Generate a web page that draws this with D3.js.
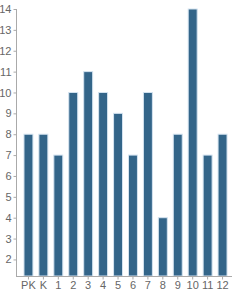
<!DOCTYPE html>
<html>
<head>
<meta charset="utf-8">
<script src="https://cdn.jsdelivr.net/npm/d3@7"></script>
<style>
  body { margin: 0; background: #fff; }
  .axis text { font-family: "Liberation Sans", Arial, sans-serif; font-size: 11px; fill: #666; }
  .axis path, .axis line { stroke: #aaa; }
</style>
</head>
<body>
<div id="chart"></div>
<script>
// grades and number of students per grade
var grades = ["PK", "K", "1", "2", "3", "4", "5", "6", "7", "8", "9", "10", "11", "12"];
var counts = [8, 8, 7, 10, 11, 10, 9, 7, 10, 4, 8, 14, 7, 8];
var yTicks = [2, 3, 4, 5, 6, 7, 8, 9, 10, 11, 12, 13, 14];

function main() {
    var width = 240, height = 296;
    var left = 16, right = 232, top = 9, bottom = 276;

    var svg = d3.select("#chart")
        .append("svg")
        .attr("width", width)
        .attr("height", height);

    // x scale over grades
    var x = d3.scaleBand()
        .domain(grades)
        .range([left + 2, right + 1])
        .padding(0.4);

    // y scale, bottom of plot sits a bit above 1
    var y = d3.scaleLinear()
        .domain([14 - (bottom - top) / 20.87, 14])
        .range([bottom, top]);

    // bars
    svg.selectAll("rect")
        .data(counts)
        .enter()
        .append("rect")
        .attr("x", function (d, i) { return x(grades[i]); })
        .attr("width", x.bandwidth())
        .attr("y", function (d) { return y(d); })
        .attr("height", function (d) { return bottom - y(d); })
        .attr("fill", "#336589")
        .attr("stroke", "#d4e3f0")
        .attr("stroke-width", 1);

    // y axis
    svg.append("g")
        .attr("class", "axis")
        .attr("transform", "translate(" + (left + 0.5) + ",0)")
        .call(d3.axisLeft(y).tickValues(yTicks).tickSize(3).tickSizeOuter(0).tickPadding(2))
        .call(function (g) { g.select(".domain").attr("d", "M0," + top + "V" + bottom); });

    // x axis
    svg.append("g")
        .attr("class", "axis")
        .attr("transform", "translate(0," + (bottom + 0.5) + ")")
        .call(d3.axisBottom(x).tickSize(3).tickSizeOuter(0).tickPadding(2))
        .call(function (g) { g.select(".domain").attr("d", "M" + left + ",0H" + right); });
}

window.addEventListener('load', main);
</script>
</body>
</html>
